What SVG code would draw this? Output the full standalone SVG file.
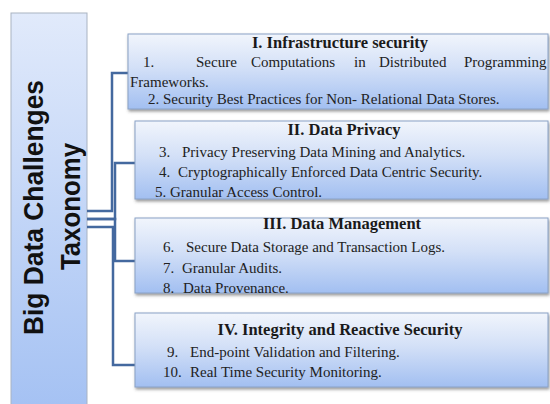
<svg xmlns="http://www.w3.org/2000/svg" width="550" height="404" viewBox="0 0 550 404">
<defs>
<linearGradient id="gBox" x1="0" y1="0" x2="0" y2="1">
<stop offset="0" stop-color="#f1f5fc"/>
<stop offset="0.45" stop-color="#d3e0f7"/>
<stop offset="1" stop-color="#a2bff1"/>
</linearGradient>
<linearGradient id="gLeft" x1="0" y1="0" x2="0" y2="1">
<stop offset="0" stop-color="#e1eafb"/>
<stop offset="1" stop-color="#a4c1f3"/>
</linearGradient>
<filter id="sh" x="-5%" y="-10%" width="110%" height="130%">
<feDropShadow dx="1" dy="2" stdDeviation="1.5" flood-color="#444" flood-opacity="0.55"/>
</filter>
<style>
.box{fill:url(#gBox);stroke:#8aa2c6;stroke-width:1;filter:url(#sh)}
.ttl{font-family:"Liberation Serif","Times New Roman",serif;font-weight:bold;font-size:16.5px;fill:#1a1a1a;text-anchor:middle}
.it{font-family:"Liberation Serif","Times New Roman",serif;font-size:15px;fill:#222}
.big{font-family:"Liberation Sans",Arial,sans-serif;font-weight:bold;font-size:28px;fill:#111;text-anchor:middle}
.con{fill:none;stroke:#44699f;stroke-width:2.5}
</style>
</defs>
<rect width="550" height="404" fill="#ffffff"/>

<g id="root">
<rect x="11" y="13" width="76" height="400" fill="url(#gLeft)" stroke="#a9b3c2" stroke-width="1"/>
<text class="big" transform="translate(43,207.5) rotate(-90)" textLength="255" lengthAdjust="spacingAndGlyphs">Big Data Challenges</text>
<text class="big" transform="translate(80,206.5) rotate(-90)" textLength="127" lengthAdjust="spacingAndGlyphs">Taxonomy</text>
</g>

<g id="connectors">
<path class="con" d="M87,211 H112 V73 H128"/>
<path class="con" d="M87,219 H115 V163 H135"/>
<path class="con" d="M87,219 H115 V261 H135"/>
<path class="con" d="M87,227 H113 V365 H135"/>
</g>

<g id="n1">
<rect class="box" x="128" y="34" width="420" height="75"/>
<text class="ttl" x="340" y="48">I. Infrastructure security</text>
<text class="it" y="67"><tspan x="143">1.</tspan><tspan x="196">Secure</tspan><tspan x="251">Computations</tspan><tspan x="354">in</tspan><tspan x="379">Distributed</tspan><tspan x="464">Programming</tspan></text>
<text class="it" x="130" y="87">Frameworks.</text>
<text class="it" x="148" y="104">2.  Security Best Practices for Non- Relational Data Stores.</text>
</g>

<g id="n2">
<rect class="box" x="135" y="121" width="413" height="78"/>
<text class="ttl" x="344" y="135">II. Data Privacy</text>
<text class="it" y="157"><tspan x="159">3.</tspan><tspan x="182">Privacy Preserving Data Mining and Analytics.</tspan></text>
<text class="it" y="177"><tspan x="159">4.</tspan><tspan x="178">Cryptographically Enforced Data Centric Security.</tspan></text>
<text class="it" x="155" y="197">5. Granular  Access Control.</text>
</g>

<g id="n3">
<rect class="box" x="135" y="218" width="413" height="75"/>
<text class="ttl" x="342" y="229">III. Data Management</text>
<text class="it" y="252"><tspan x="163">6.</tspan><tspan x="186">Secure Data Storage and Transaction Logs.</tspan></text>
<text class="it" y="273"><tspan x="163">7.</tspan><tspan x="182">Granular  Audits.</tspan></text>
<text class="it" y="293"><tspan x="163">8.</tspan><tspan x="183">Data Provenance.</tspan></text>
</g>

<g id="n4">
<rect class="box" x="135" y="313" width="413" height="74"/>
<text class="ttl" x="340" y="335">IV. Integrity and Reactive Security</text>
<text class="it" y="357"><tspan x="167">9.</tspan><tspan x="190">End-point  Validation  and Filtering.</tspan></text>
<text class="it" y="377"><tspan x="163">10.</tspan><tspan x="190">Real Time  Security Monitoring.</tspan></text>
</g>
</svg>
